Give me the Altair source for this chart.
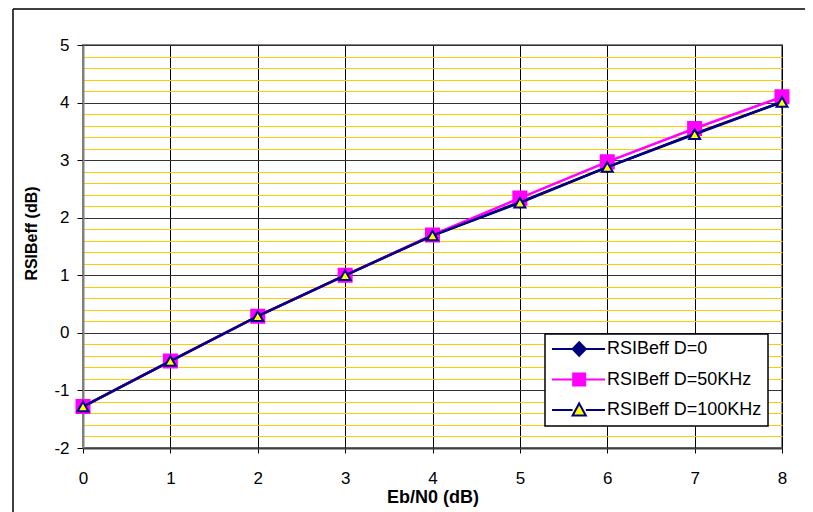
import altair as alt
import pandas as pd

# ---- data ----
ebn0 = [0, 1, 2, 3, 4, 5, 6, 7, 8]
d0 = [-1.28, -0.49, 0.29, 1.00, 1.69, 2.27, 2.88, 3.46, 4.01]
d50 = [-1.28, -0.49, 0.29, 1.00, 1.70, 2.34, 2.97, 3.55, 4.10]
d100 = [-1.28, -0.49, 0.29, 1.00, 1.69, 2.26, 2.88, 3.45, 4.01]
names = ["RSIBeff D=0", "RSIBeff D=50KHz", "RSIBeff D=100KHz"]

y_minor = [round(-2 + 0.2 * i, 1) for i in range(36)]
x_ticks = [0, 1, 2, 3, 4, 5, 6, 7, 8]

rows = []
for nm, vals in zip(names, [d0, d50, d100]):
    for xv, yv in zip(ebn0, vals):
        rows.append({"series": nm, "x": xv, "y": yv})
df = pd.DataFrame(rows)

NAVY = "#000080"
MAG = "#FF00FF"
YEL = "#FFFF00"
FONT = "Liberation Sans"

is_int = "abs(datum.value - round(datum.value)) < 0.001"

xaxis = alt.Axis(
    values=x_ticks, grid=True, gridColor="#000000", gridWidth=1,
    tickColor="#000000", tickSize=5, tickWidth=1,
    domainColor="#404040", domainWidth=2,
    labelFont=FONT, labelFontSize=17, labelColor="#000000", labelPadding=17,
    labelFlush=False,
    labelExpr="'' + datum.value",
    titleFont=FONT, titleFontSize=18, titleFontWeight="bold", titleColor="#000000",
    titleY=49, titleBaseline="middle",
)
yaxis = alt.Axis(
    values=y_minor, grid=True,
    gridColor={"condition": {"test": is_int, "value": "#333333"}, "value": "#FFCC00"},
    gridWidth=1,
    tickColor="#000000", tickSize=6, tickWidth=1,
    tickOpacity={"condition": {"test": is_int, "value": 1}, "value": 0},
    domainColor="#808080", domainWidth=2,
    labelFont=FONT, labelFontSize=17, labelColor="#000000", labelPadding=8,
    labelFlush=False,
    labelExpr=is_int + " ? '' + round(datum.value) : ''",
    titleFont=FONT, titleFontSize=16, titleFontWeight="bold", titleColor="#000000",
    titleX=-52, titleY=188, titleBaseline="middle", titleAngle=270,
)

X = alt.X("x:Q", scale=alt.Scale(domain=[0, 8], nice=False, zero=False), axis=xaxis, title="Eb/N0 (dB)")
Y = alt.Y("y:Q", scale=alt.Scale(domain=[-2, 5], nice=False, zero=False), axis=yaxis, title="RSIBeff (dB)")

styles = [
    (names[0], NAVY, "diamond", NAVY, NAVY, 110),
    (names[1], MAG, "square", MAG, MAG, 170),
    (names[2], NAVY, "triangle-up", YEL, NAVY, 120),
]

layers = []
for nm, col, shp, fil, stk, sz in styles:
    base = alt.Chart(df).transform_filter(alt.datum.series == nm)
    layers.append(base.mark_line(color=col, strokeWidth=2.5).encode(x=X, y=Y))
    layers.append(
        base.mark_point(shape=shp, filled=True, fill=fil, stroke=stk, strokeWidth=2,
                        size=sz, opacity=1).encode(x=X, y=Y)
    )

# legend symbols: line with marker (units of 6px, symbolSize 144)
path_d = "M-1.33,0H2.1M4.3,0H7.5M3.2,-1.15L4.3,0L3.2,1.15L2.1,0Z"
path_s = "M-1.33,0H2.2M4.2,0H7.5M2.2,-1H4.2V1H2.2Z"
path_t = "M-1.33,0H2.1M4.3,0H7.5M3.2,-1.1L4.3,0.9L2.1,0.9Z"

leg = alt.Legend(
    title=None, orient="none", legendX=462, legendY=289,
    fillColor="#FFFFFF", strokeColor="#000000",
    padding=6, rowPadding=9.5, symbolSize=144, symbolStrokeWidth=2,
    symbolOffset=0, labelOffset=38, labelFont=FONT, labelFontSize=18,
    labelColor="#000000", labelLimit=400,
)
legend_layer = (
    alt.Chart(df).transform_filter("false")
    .mark_point(filled=True, opacity=1)
    .encode(
        x=X, y=Y,
        shape=alt.Shape("series:N", scale=alt.Scale(domain=names, range=[path_d, path_s, path_t]), legend=leg),
        fill=alt.Fill("series:N", scale=alt.Scale(domain=names, range=[NAVY, MAG, YEL]), legend=leg),
        stroke=alt.Stroke("series:N", scale=alt.Scale(domain=names, range=[NAVY, MAG, NAVY]), legend=leg),
    )
)

dummy = pd.DataFrame({"k": [0]})
frame_left = alt.Chart(dummy).mark_rule(color="#000000", strokeWidth=1.5).encode(
    x=alt.value(-70), y=alt.value(-36), y2=alt.value(480))
frame_top = alt.Chart(dummy).mark_rule(color="#000000", strokeWidth=1.5).encode(
    x=alt.value(-70), x2=alt.value(760), y=alt.value(-36))

chart = alt.layer(frame_left, frame_top, *layers, legend_layer).resolve_scale(
    shape="independent", fill="independent", stroke="independent"
).properties(
    width=699, height=403,
    autosize=alt.AutoSizeParams(type="none"),
    padding={"left": 75, "top": 37, "right": 23, "bottom": 64},
    background="#FFFFFF",
).configure_view(stroke="#808080", strokeWidth=2).configure_legend(strokeWidth=1.5)

chart.save("out.html", embed_options={"renderer": "svg", "actions": False})
